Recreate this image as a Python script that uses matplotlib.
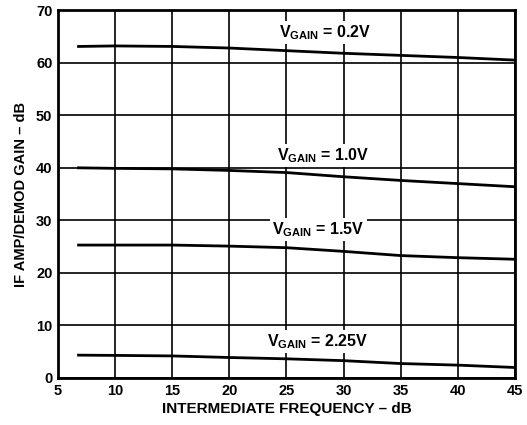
import matplotlib.pyplot as plt

plt.rcParams['font.family'] = ['Liberation Sans', 'DejaVu Sans']
plt.rcParams['mathtext.fontset'] = 'custom'
plt.rcParams['mathtext.rm'] = 'Liberation Sans:bold'
plt.rcParams['mathtext.bf'] = 'Liberation Sans:bold'

# curve data
freq = [6.8, 10, 15, 20, 25, 30, 35, 40, 45]
gain_02 = [63.1, 63.2, 63.1, 62.8, 62.3, 61.8, 61.4, 61.0, 60.5]
gain_10 = [40.0, 39.9, 39.8, 39.5, 39.1, 38.3, 37.6, 37.0, 36.4]
gain_15 = [25.3, 25.3, 25.3, 25.1, 24.8, 24.1, 23.3, 22.9, 22.6]
gain_225 = [4.35, 4.3, 4.2, 3.9, 3.65, 3.3, 2.75, 2.45, 2.0]

labels = ['0.2V', '1.0V', '1.5V', '2.25V']
label_x = [28.4, 28.2, 27.8, 27.7]
label_y = [65.8, 42.4, 28.2, 6.9]

xticks = [5, 10, 15, 20, 25, 30, 35, 40, 45]
yticks = [0, 10, 20, 30, 40, 50, 60, 70]

fig = plt.figure(figsize=(5.27, 4.25), dpi=100)
ax = fig.add_axes([0.110, 0.1106, 0.867, 0.8654])

for g in [gain_02, gain_10, gain_15, gain_225]:
    ax.plot(freq, g, color='black', lw=2, zorder=3)

for lab, lx, ly in zip(labels, label_x, label_y):
    ax.text(lx, ly, r'V$_{\mathbf{GAIN}}$ = ' + lab, ha='center', va='center',
            fontsize=11.5, fontweight='bold', zorder=4,
            bbox=dict(facecolor='white', edgecolor='none', pad=1.5))

ax.set_xlim(5, 45)
ax.set_ylim(0, 70)
ax.set_xticks(xticks)
ax.set_yticks(yticks)
ax.grid(True, color='black', lw=1.2)
ax.tick_params(length=0, labelsize=10.5, pad=4)
for t in ax.get_xticklabels() + ax.get_yticklabels():
    t.set_fontweight('bold')
for s in ax.spines.values():
    s.set_linewidth(2)

ax.set_xlabel('INTERMEDIATE FREQUENCY – dB', fontsize=11, fontweight='bold', labelpad=3)
ax.set_ylabel('IF AMP/DEMOD GAIN – dB', fontsize=10.5, fontweight='bold', labelpad=6)

fig.savefig('out.png', dpi=100)
